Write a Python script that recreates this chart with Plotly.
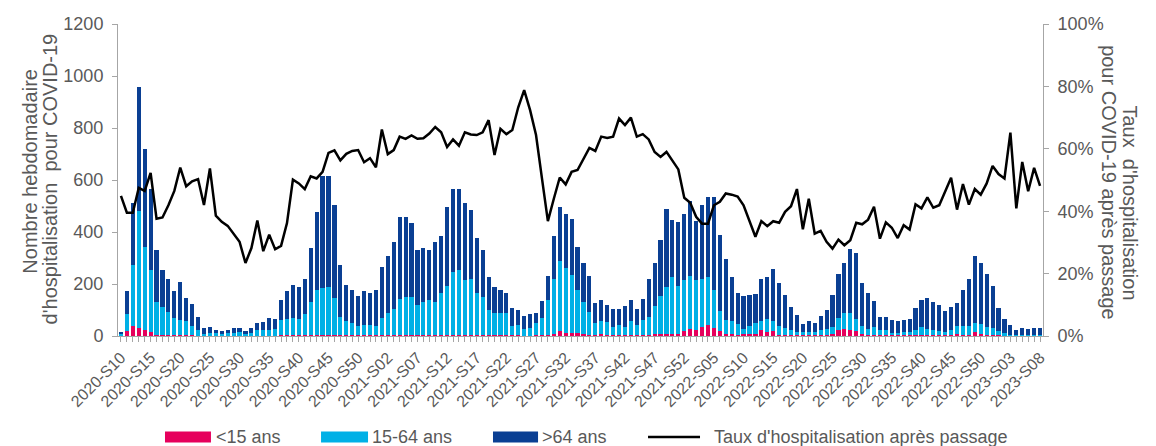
import plotly.graph_objects as go

# ---- category labels (ISO weeks) ----
weeks = []
for year, first, last in [(2020, 10, 53), (2021, 1, 52), (2022, 1, 52), (2023, 1, 8)]:
    for w in range(first, last + 1):
        weeks.append(f"{year}-S{w:02d}")

# ---- series values (weekly hospitalisations by age group) ----
under15 = [2, 18, 40, 31, 23, 14, 4, 3, 3, 2, 3, 3, 3, 1, 1, 1, 1, 0, 0, 1,
           1, 0, 1, 1, 1, 1, 1, 2, 2, 2, 2, 4, 4, 3, 3, 3, 4, 3, 2, 2,
           2, 2, 2, 2, 3, 3, 5, 4, 3, 3, 3, 3, 3, 3, 4, 4, 5, 5, 4, 4,
           3, 4, 3, 3, 2, 2, 2, 2, 1, 1, 2, 3, 5, 8, 18, 12, 12, 12, 9, 5,
           4, 6, 4, 3, 3, 3, 4, 3, 4, 5, 8, 7, 9, 7, 7, 18, 27, 23, 35, 44,
           31, 18, 9, 9, 5, 9, 9, 9, 23, 14, 18, 5, 3, 3, 2, 2, 2, 2, 3, 4,
           9, 23, 27, 22, 18, 9, 4, 5, 3, 3, 2, 2, 2, 2, 3, 4, 3, 3, 3, 2,
           4, 6, 5, 5, 14, 8, 5, 4, 2, 1, 1, 0, 0, 0, 0, 0]
age15_64 = [4, 65, 232, 450, 318, 241, 127, 107, 88, 67, 57, 53, 37, 21, 8, 11, 9, 9, 10, 12,
            13, 9, 12, 21, 23, 21, 26, 61, 65, 69, 63, 79, 127, 173, 182, 184, 141, 71, 56, 47,
            38, 42, 39, 38, 68, 84, 100, 137, 146, 146, 115, 129, 137, 128, 163, 189, 243, 249, 210, 216,
            164, 145, 98, 84, 88, 85, 38, 40, 26, 31, 47, 66, 135, 212, 271, 250, 224, 164, 122, 87,
            47, 52, 49, 32, 41, 32, 54, 41, 59, 69, 106, 146, 180, 220, 186, 196, 203, 194, 185, 183,
            145, 79, 53, 47, 40, 18, 30, 40, 35, 53, 40, 34, 28, 20, 13, 12, 13, 13, 21, 23,
            26, 46, 60, 65, 47, 31, 23, 30, 19, 19, 8, 10, 12, 13, 19, 31, 24, 19, 15, 12,
            18, 31, 32, 32, 36, 39, 30, 27, 16, 9, 4, 3, 5, 4, 5, 5]
over64 = [10, 89, 240, 475, 377, 310, 198, 144, 127, 106, 149, 92, 82, 51, 22, 23, 12, 9, 12, 18,
          17, 9, 18, 27, 29, 47, 40, 74, 105, 127, 124, 135, 207, 302, 431, 429, 358, 198, 140, 129,
          113, 128, 126, 136, 196, 220, 258, 316, 308, 284, 211, 206, 189, 232, 218, 303, 317, 311, 298, 265,
          209, 183, 126, 100, 86, 79, 69, 59, 51, 51, 38, 67, 92, 165, 207, 207, 215, 165, 150, 140,
          76, 79, 65, 70, 61, 79, 79, 61, 81, 145, 167, 215, 298, 220, 245, 255, 290, 225, 283, 307,
          358, 293, 236, 171, 121, 126, 118, 111, 160, 160, 200, 166, 126, 90, 67, 33, 41, 36, 54, 74,
          122, 171, 194, 249, 255, 165, 139, 101, 51, 51, 50, 44, 48, 50, 87, 102, 121, 109, 100, 82,
          91, 90, 139, 181, 257, 234, 205, 162, 91, 55, 39, 19, 26, 23, 26, 26]
# hospitalisation rate after emergency visit (%)
taux = [44.9, 39.5, 39.5, 47.5, 46.5, 52.3, 37.6, 38.0, 41.9, 46.5,
        54.0, 48.0, 49.6, 50.3, 42.0, 53.7, 38.6, 36.6, 35.3, 32.8,
        30.2, 23.4, 28.2, 37.0, 27.2, 32.5, 27.8, 28.9, 36.2, 50.1,
        48.9, 47.1, 51.2, 50.5, 52.6, 58.7, 59.5, 56.3, 58.4, 59.3,
        59.6, 55.7, 57.0, 54.1, 66.2, 58.3, 59.6, 63.9, 63.2, 64.3,
        63.2, 63.4, 64.9, 67.0, 65.3, 60.6, 63.0, 61.0, 65.3, 64.6,
        64.4, 65.3, 69.2, 58.0, 66.4, 64.7, 66.0, 73.3, 78.8, 72.4,
        64.4, 50.5, 36.8, 44.0, 50.8, 48.6, 52.6, 53.2, 56.8, 60.3,
        59.3, 63.9, 63.5, 63.9, 69.7, 67.6, 70.0, 63.9, 64.7, 63.0,
        59.0, 57.4, 59.0, 56.4, 53.4, 44.3, 42.7, 38.2, 36.0, 36.0,
        41.9, 43.0, 45.7, 45.3, 44.7, 41.9, 37.1, 31.8, 36.8, 35.2,
        36.8, 36.3, 39.8, 41.6, 47.1, 34.2, 44.0, 32.8, 33.7, 30.2,
        28.0, 30.9, 29.1, 30.7, 36.3, 35.8, 37.3, 41.4, 31.2, 36.4,
        34.7, 31.4, 35.5, 34.1, 42.2, 40.9, 44.4, 41.1, 41.9, 46.2,
        50.7, 40.5, 48.7, 42.1, 47.1, 45.3, 48.9, 54.5, 51.9, 50.5,
        65.2, 40.9, 55.8, 46.4, 53.9, 48.1]

series_names = ["<15 ans", "15-64 ans", ">64 ans", "Taux d'hospitalisation après passage"]
series_colors = ["#E6005C", "#00B0E6", "#0A3F93", "black"]

# tick labels every 5 weeks
tick_idx = list(range(0, len(weeks), 5))
tick_labels = [weeks[i] for i in tick_idx]

x = list(range(len(weeks)))
FONT = "Liberation Sans, Arial, sans-serif"
GREY = "#595959"
AXIS = "#A6A6A6"

fig = go.Figure()
for vals, nm, col in zip([under15, age15_64, over64], series_names[:3], series_colors[:3]):
    fig.add_trace(go.Bar(x=x, y=vals, name=nm, marker_color=col, marker_line_width=0,
                         customdata=weeks, hovertemplate="%{customdata}: %{y}<extra>" + nm + "</extra>"))
fig.add_trace(go.Scatter(x=x, y=taux, name=series_names[3], mode="lines",
                         line=dict(color=series_colors[3], width=2.5), yaxis="y2",
                         customdata=weeks, hovertemplate="%{customdata}: %{y}%<extra></extra>"))

# the page body has an 8px margin: figure is sized/offset to fill the 1156x446 window
fig.update_layout(
    width=1148, height=438,
    margin=dict(l=110, r=113, t=16, b=110, autoexpand=False),
    paper_bgcolor="white", plot_bgcolor="white",
    barmode="stack", bargap=0.3,
    font=dict(family=FONT, color=GREY, size=16),
    showlegend=False,
    xaxis=dict(range=[-0.5, len(weeks) - 0.5], tickmode="array", tickvals=tick_idx,
               ticktext=tick_labels, tickangle=-45, tickfont=dict(size=16, color=GREY),
               showline=True, linecolor=AXIS, linewidth=1, ticks="outside", ticklen=5,
               tickcolor=AXIS, showgrid=False, zeroline=False, automargin=False,
               minor=dict(tickmode="linear", tick0=0, dtick=1, ticks="outside",
                          ticklen=5, tickcolor=AXIS, showgrid=False)),
    yaxis=dict(range=[0, 1200], dtick=200, tickfont=dict(size=18, color=GREY),
               showline=True, linecolor=AXIS, ticks="outside", ticklen=5, tickcolor=AXIS,
               ticklabelstandoff=5,
               showgrid=False, zeroline=False, automargin=False),
    yaxis2=dict(range=[0, 100], dtick=20, ticksuffix="%", overlaying="y", side="right",
                tickfont=dict(size=18, color=GREY), showline=True, linecolor=AXIS,
                ticks="outside", ticklen=5, tickcolor=AXIS, ticklabelstandoff=5,
                showgrid=False, zeroline=False, automargin=False),
)

# axis titles
ann = dict(xref="paper", yref="paper", showarrow=False,
           font=dict(family=FONT, size=20, color=GREY))
fig.add_annotation(text="Nombre hebdomadaire", x=-0.1092, y=0.53, textangle=-90, **ann)
fig.add_annotation(text="d'hospitalisation  pour COVID-19", x=-0.0876, y=0.505, textangle=-90, **ann)
fig.add_annotation(text="Taux  d'hospitalisation", x=1.108, y=0.425, textangle=90, **ann)
fig.add_annotation(text="pour COVID-19 après passage", x=1.0854, y=0.49, textangle=90, **ann)

# legend (wide swatches as in the reference)
leg_y = -0.3237
sw_x = [(0.0508, 0.1005), (0.2195, 0.2703), (0.4054, 0.4541), (0.5730, 0.6292)]
txt_x = [0.1038, 0.2724, 0.4562, 0.6422]
for i, (nm, col) in enumerate(zip(series_names, series_colors)):
    x0, x1 = sw_x[i]
    if i < 3:
        fig.add_shape(type="rect", xref="paper", yref="paper", x0=x0, x1=x1,
                      y0=leg_y - 0.0176, y1=leg_y + 0.0176, fillcolor=col, line_width=0)
    else:
        fig.add_shape(type="line", xref="paper", yref="paper", x0=x0, x1=x1,
                      y0=leg_y, y1=leg_y, line=dict(color=col, width=2.5))
    fig.add_annotation(text=nm, x=txt_x[i], y=leg_y, xanchor="left", yanchor="middle",
                       xref="paper", yref="paper", showarrow=False,
                       font=dict(family=FONT, size=18, color=GREY))

fig.write_html("out.html")
